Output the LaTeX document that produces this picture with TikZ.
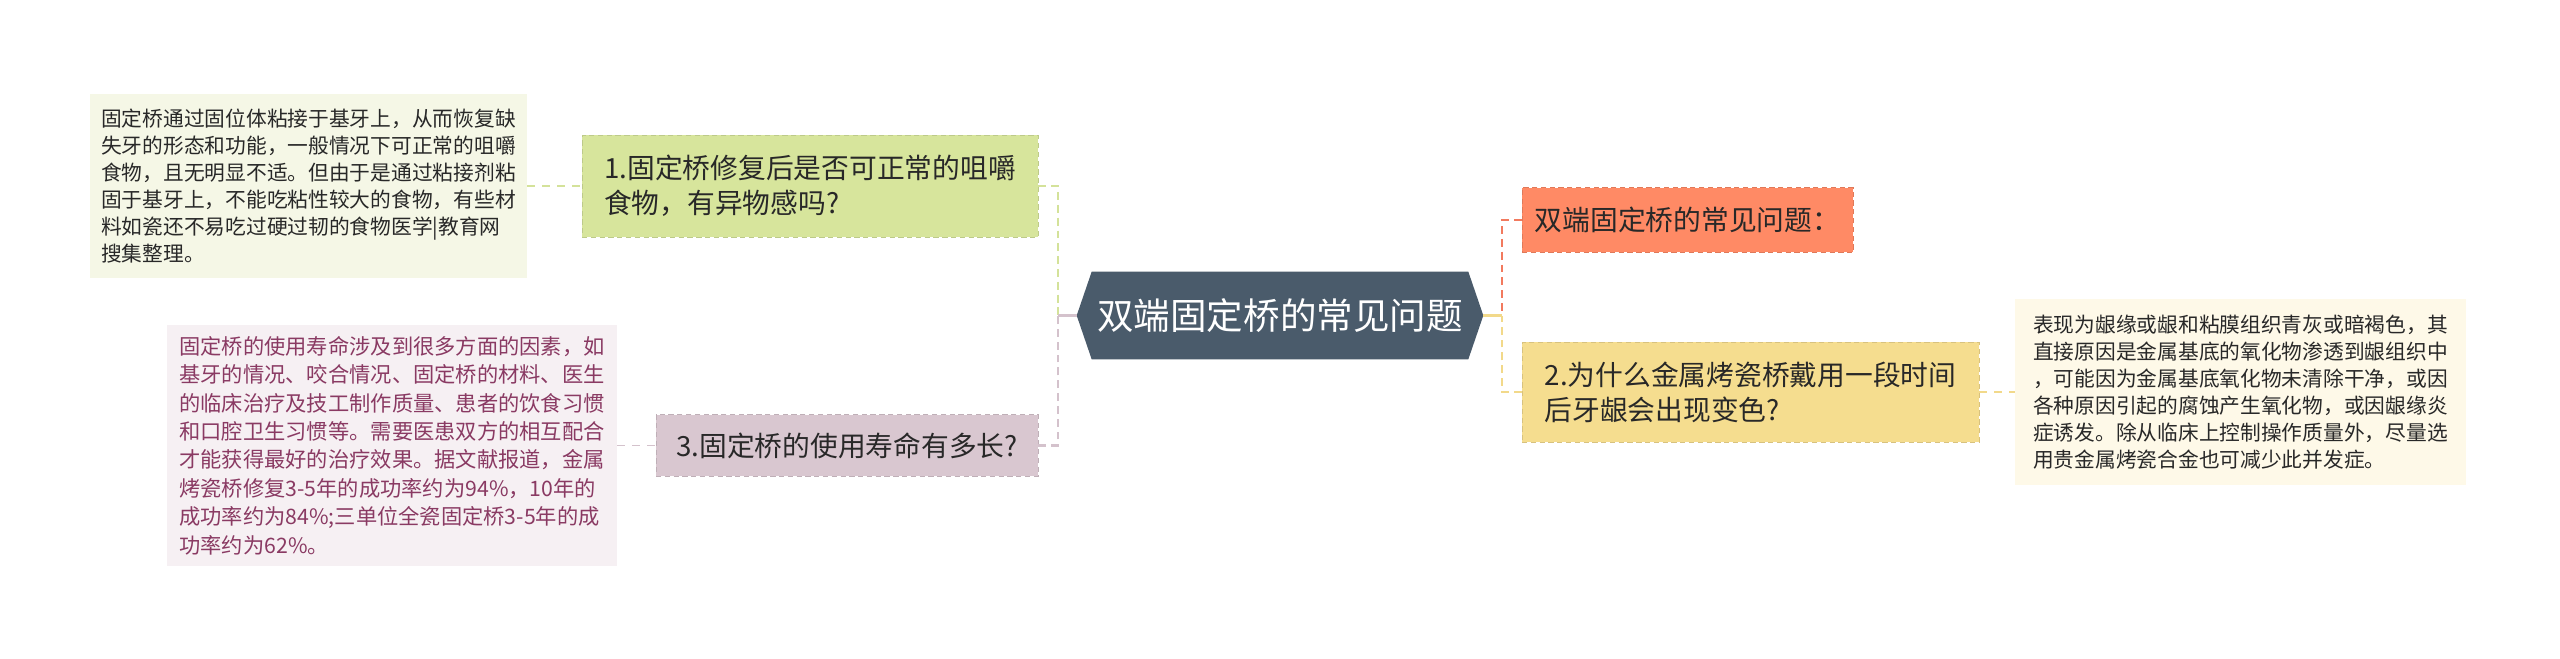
\documentclass[tikz,border=0pt]{standalone}
\usepackage{fontspec}
\setmainfont{Noto Sans CJK SC}
\usepackage{tikz}
\usetikzlibrary{calc}
\usetikzlibrary{backgrounds}
\definecolor{rootgrey}{RGB}{74,91,107}
\definecolor{mytopicgreen}{RGB}{215,229,156}
\definecolor{mytopicpink}{RGB}{217,199,208}
\definecolor{mytopicorange}{RGB}{255,138,101}
\definecolor{mytopicyellow}{RGB}{245,221,143}
\definecolor{myleafgreen}{RGB}{245,247,230}
\definecolor{myleafpink}{RGB}{246,240,243}
\definecolor{myleafyellow}{RGB}{254,249,232}
\definecolor{mypinktext}{RGB}{138,58,99}
\definecolor{mytext}{RGB}{40,40,40}
\definecolor{linegreen}{RGB}{212,226,154}
\definecolor{linepink}{RGB}{212,194,204}
\definecolor{lineorange}{RGB}{242,122,94}
\definecolor{lineyellow}{RGB}{242,217,138}
\newcommand{\fontleaf}{\fontsize{11.8pt}{15.3pt}\selectfont}
\newcommand{\fontleafpink}{\fontsize{12.1pt}{16.2pt}\selectfont}
\newcommand{\fonttopic}{\fontsize{15.8pt}{19.8pt}\selectfont}
\newcommand{\fontroot}{\fontsize{20.8pt}{24pt}\selectfont}
\newcommand{\hexcut}{15}
\tikzset{
    common/.style={anchor=center, align=left, inner sep=0pt},
    leaf/.style={common, font=\fontleaf, text=mytext},
    topic/.style={common, font=\fonttopic, text=mytext, fill=#1, draw=#1!88!black,
        densely dashed, line width=0.5pt},
    rootbox/.style={common, font=\fontroot, text=white},
    branch/.style={line width=1.4pt, dash pattern=on 4.5pt off 2.8pt},
    stem/.style={line width=1.4pt},
    twig/.style={line width=0.6pt, dash pattern=on 4.5pt off 4pt}
}
\begin{document}
\begin{tikzpicture}[x=0.02cm, y=-0.02cm]
    \useasboundingbox (0,0) rectangle (2560,659);

    % centre
    \node[rootbox, minimum width=8.12cm, minimum height=1.74cm] (root) at (1280,315.5) {双端固定桥的常见问题};
    \begin{scope}[on background layer]
        \fill[white] (0,0) rectangle (2560,659);
        \fill[rootgrey] (root.west) -- ($(root.north west)+(\hexcut,0)$) -- ($(root.north east)+(-\hexcut,0)$)
            -- (root.east) -- ($(root.south east)+(-\hexcut,0)$) -- ($(root.south west)+(\hexcut,0)$) -- cycle;
    \end{scope}

    % left side
    \node[topic=mytopicgreen, minimum width=9.12cm, minimum height=2.04cm] (topicA) at (810,186)
        {1.固定桥修复后是否可正常的咀嚼\\食物，有异物感吗?};
    \node[leaf, fill=myleafgreen, minimum width=8.74cm, minimum height=3.70cm] (leafA) at (308.5,186)
        {固定桥通过固位体粘接于基牙上，从而恢复缺\\
         失牙的形态和功能，一般情况下可正常的咀嚼\\
         食物，且无明显不适。但由于是通过粘接剂粘\\
         固于基牙上，不能吃粘性较大的食物，有些材\\
         料如瓷还不易吃过硬过韧的食物医学|教育网\\
         搜集整理。};
    \node[topic=mytopicpink, minimum width=7.64cm, minimum height=1.24cm] (topicC) at (847,445.5)
        {3.固定桥的使用寿命有多长?};
    \node[leaf, font=\fontleafpink, text=mypinktext, fill=myleafpink, minimum width=9.0cm, minimum height=4.84cm] (leafC) at (392,445.5)
        {固定桥的使用寿命涉及到很多方面的因素，如\\
         基牙的情况、咬合情况、固定桥的材料、医生\\
         的临床治疗及技工制作质量、患者的饮食习惯\\
         和口腔卫生习惯等。需要医患双方的相互配合\\
         才能获得最好的治疗效果。据文献报道，金属\\
         烤瓷桥修复3-5年的成功率约为94\%，10年的\\
         成功率约为84\%;三单位全瓷固定桥3-5年的成\\
         功率约为62\%。};

    % right side
    \node[topic=mytopicorange, minimum width=6.62cm, minimum height=1.30cm] (topicO) at (1687.5,220)
        {双端固定桥的常见问题：};
    \node[topic=mytopicyellow, minimum width=9.14cm, minimum height=2.0cm] (topicB) at (1750.5,392)
        {2.为什么金属烤瓷桥戴用一段时间\\后牙龈会出现变色?};
    \node[leaf, fill=myleafyellow, minimum width=9.02cm, minimum height=3.74cm] (leafB) at (2240.5,392)
        {表现为龈缘或龈和粘膜组织青灰或暗褐色，其\\
         直接原因是金属基底的氧化物渗透到龈组织中\\
         ，可能因为金属基底氧化物未清除干净，或因\\
         各种原因引起的腐蚀产生氧化物，或因龈缘炎\\
         症诱发。除从临床上控制操作质量外，尽量选\\
         用贵金属烤瓷合金也可减少此并发症。};

    \coordinate (lhub) at (1058,315.5);
    \coordinate (rhub) at (1502,315.5);

    \draw[branch, linegreen] (topicA.east) -| (lhub);
    \draw[branch, linepink] (topicC.east) -| (lhub);
    \draw[stem, linepink] (lhub) -- (root.west);
    \draw[branch, lineorange] (topicO.west) -| (rhub);
    \draw[branch, lineyellow] (topicB.west) -| (rhub);
    \draw[stem, lineyellow] (root.east) -- (rhub);

    \draw[twig, linegreen] (leafA.east) -- (topicA.west);
    \draw[twig, linepink] (leafC.east) -- (topicC.west);
    \draw[twig, lineyellow] (topicB.east) -- (leafB.west);
\end{tikzpicture}
\end{document}
